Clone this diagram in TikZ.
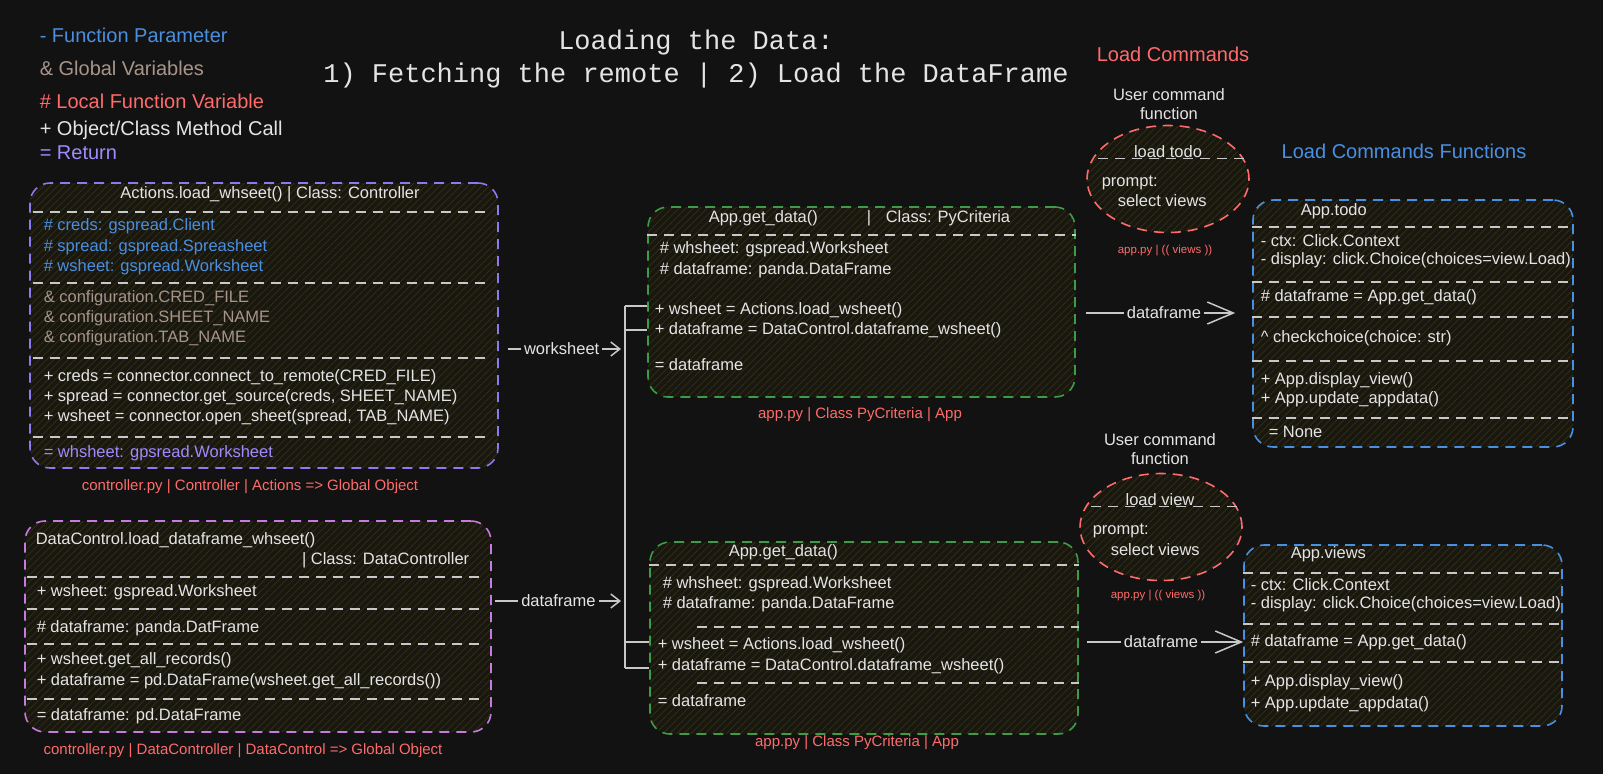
\documentclass[tikz,border=0pt]{standalone}
\usepackage{fontspec}
\setmainfont{Liberation Sans}
\newfontfamily\codefont{Liberation Mono}
\usetikzlibrary{arrows.meta,shapes.geometric,patterns.meta}
\definecolor{bgc}{HTML}{121212}
\definecolor{fg}{HTML}{E4E4E4}
\definecolor{sepc}{HTML}{C8C8C8}
\definecolor{boxfill}{HTML}{181710}
\definecolor{hatch}{HTML}{363017}
\definecolor{parblue}{HTML}{4A8FDF}
\definecolor{globbrown}{HTML}{A8958A}
\definecolor{locred}{HTML}{FF6B6B}
\definecolor{retpurple}{HTML}{A08AFF}
\definecolor{actviolet}{HTML}{9078F0}
\definecolor{dcpink}{HTML}{C87BDC}
\definecolor{appgreen}{HTML}{3E9B47}
\definecolor{fnblue}{HTML}{4A90E2}

\begin{document}
\begin{tikzpicture}[x=1pt,y=-1pt,line width=1.5pt]
   \fill[bgc] (0,0) rectangle (1603,774);
   \useasboundingbox (0,0) rectangle (1603,774);
   \tikzstyle{cls}=[rectangle, rounded corners=20pt, draw, line width=1.6pt, dash pattern=on 10pt off 7pt, preaction={fill=boxfill}, pattern={Lines[angle=45,distance=5pt,line width=0.7pt]}, pattern color=hatch, inner sep=0pt]
   \tikzstyle{cmd}=[ellipse, draw=locred, line width=1.6pt, dash pattern=on 10pt off 7pt, preaction={fill=boxfill}, pattern={Lines[angle=45,distance=5pt,line width=0.7pt]}, pattern color=hatch, inner sep=0pt]
   \tikzstyle{sep}=[draw=sepc, line width=1.5pt, dash pattern=on 10pt off 7pt]
   \tikzstyle{txt}=[anchor=west, inner sep=0pt, text=fg, font=\fontsize{16.5}{19}\selectfont]
   \tikzstyle{srcnote}=[inner sep=0pt, text=locred, font=\fontsize{15}{17}\selectfont]
   \tikzstyle{wire}=[draw=sepc, line width=1.5pt]
   \tikzstyle{lbl}=[fill=bgc, inner sep=3pt, text=fg, font=\fontsize{16.5}{19}\selectfont]

   % legend and title
   \foreach \y/\c/\t in {35/parblue/{- Function Parameter},68/globbrown/{\& Global Variables},101/locred/{\# Local Function Variable},130/fg/{+ Object/Class Method Call},153/retpurple/{= Return}}
       \node[txt, text=\c, font=\fontsize{20}{22}\selectfont] (leg\y) at (39,\y) {\t};
   \node[text=fg, font=\codefont\fontsize{27}{30}\selectfont] (title1) at (696,43) {Loading the Data:};
   \node[text=fg, font=\codefont\fontsize{27}{30}\selectfont] (title2) at (696,76) {1) Fetching the remote | 2) Load the DataFrame};
   \node[text=locred, font=\fontsize{20}{22}\selectfont] (cmdhead) at (1173,54) {Load Commands};
   \node[text=fnblue, font=\fontsize{20}{22}\selectfont] (fnhead) at (1404,151) {Load Commands Functions};

   % Actions.load_wsheet
   \node[cls, draw=actviolet, minimum width=468pt, minimum height=285pt] (act) at (264,325.5) {};
   \node[txt, anchor=center] (act-t) at (270,194) {Actions.load\_whseet() | Class: Controller};
   \foreach \y in {212,283,358,437}
       \draw[sep, shorten <=3pt, shorten >=8pt] (act.west |- 0,\y) -- (act.east |- 0,\y);
   \foreach \y/\c/\t in {226/parblue/{\# creds: gspread.Client},247/parblue/{\# spread: gspread.Spreasheet},267/parblue/{\# wsheet: gspread.Worksheet},
       298/globbrown/{\& configuration.CRED\_FILE},318/globbrown/{\& configuration.SHEET\_NAME},338/globbrown/{\& configuration.TAB\_NAME},
       377/fg/{+ creds = connector.connect\_to\_remote(CRED\_FILE)},397/fg/{+ spread = connector.get\_source(creds, SHEET\_NAME)},417/fg/{+ wsheet = connector.open\_sheet(spread, TAB\_NAME)},
       453/retpurple/{= whsheet: gpsread.Worksheet}}
       \node[txt, text=\c] (act\y) at (43,\y) {\t};
   \node[srcnote] (act-cap) at (250,487) {controller.py | Controller | Actions => Global Object};

   % DataControl.load_dataframe_wsheet
   \node[cls, draw=dcpink, minimum width=466pt, minimum height=211pt] (dc) at (258,626.5) {};
   \node[txt] (dc-t1) at (35,540) {DataControl.load\_dataframe\_whseet()};
   \node[txt, anchor=east] (dc-t2) at (470,560) {| Class: DataController};
   \foreach \y in {577,609,644,699}
       \draw[sep, shorten <=3pt, shorten >=8pt] (dc.west |- 0,\y) -- (dc.east |- 0,\y);
   \foreach \y/\t in {592/{+ wsheet: gspread.Worksheet},628/{\# dataframe: panda.DatFrame},660/{+ wsheet.get\_all\_records()},681/{+ dataframe = pd.DataFrame(wsheet.get\_all\_records())},716/{= dataframe: pd.DataFrame}}
       \node[txt] (dc\y) at (36,\y) {\t};
   \node[srcnote] (dc-cap) at (243,751) {controller.py | DataController | DataControl => Global Object};

   % App.get_data (top)
   \node[cls, draw=appgreen, minimum width=427pt, minimum height=190pt] (gda) at (861.5,302) {};
   \node[txt] (gda-t1) at (708,218) {App.get\_data()};
   \node[txt, anchor=center] (gda-t2) at (869,218) {|};
   \node[txt] (gda-t3) at (885,218) {Class: PyCriteria};
   \draw[sep] (gda.west |- 0,235) -- (gda.east |- 0,235);
   \foreach \y/\x/\t in {249/659/{\# whsheet: gspread.Worksheet},270/659/{\# dataframe: panda.DataFrame},310/654/{+ wsheet = Actions.load\_wsheet()},330/654/{+ dataframe = DataControl.dataframe\_wsheet()},365/654/{= dataframe}}
       \node[txt] (gda\y) at (\x,\y) {\t};
   \node[srcnote] (gda-cap) at (860,415) {app.py | Class PyCriteria | App};

   % App.get_data (bottom)
   \node[cls, draw=appgreen, minimum width=428pt, minimum height=192pt] (gdb) at (864,638) {};
   \node[txt] (gdb-t) at (728,552) {App.get\_data()};
   \draw[sep] (gdb.west |- 0,565) -- (gdb.east |- 0,565);
   \draw[sep] (697,627) -- (gdb.east |- 0,627);
   \draw[sep] (697,683) -- (gdb.east |- 0,683);
   \foreach \y/\x/\t in {584/662/{\# whsheet: gspread.Worksheet},604/662/{\# dataframe: panda.DataFrame},645/657/{+ wsheet = Actions.load\_wsheet()},666/657/{+ dataframe = DataControl.dataframe\_wsheet()},701/657/{= dataframe}}
       \node[txt] (gdb\y) at (\x,\y) {\t};
   \node[srcnote] (gdb-cap) at (857,743) {app.py | Class PyCriteria | App};

   % bus into both App.get_data
   \coordinate (bustop) at (625,306);
   \coordinate (busbot) at (625,668);
   \draw[wire] (bustop) -- (busbot);
   \foreach \y in {306,330}
       \draw[wire] (625,\y) -- (gda.west |- 0,\y);
   \foreach \y in {642,668}
       \draw[wire] (625,\y) -- (gdb.west |- 0,\y);
   \coordinate (wsin) at (625,349);
   \coordinate (dfin) at (625,601);
   \draw[wire, -{Straight Barb[length=9pt,width=14pt]}, shorten <=10pt, shorten >=4pt] (act.east |- wsin) -- node[lbl] {worksheet} (wsin);
   \draw[wire, -{Straight Barb[length=9pt,width=14pt]}, shorten <=3pt, shorten >=4pt] (dc.east |- dfin) -- node[lbl] {dataframe} (dfin);

   % user commands
   \node[text=fg, font=\fontsize{16.5}{19}\selectfont, align=center] (todo-u) at (1169,104) {User command\\function};
   \node[cmd, minimum width=162pt, minimum height=107pt] (ldtodo) at (1168,179) {};
   \node[txt, anchor=center] (ldtodo-t) at (1168,152) {load todo};
   \draw[sep] (ldtodo.15) -- (ldtodo.165);
   \node[txt] (ldtodo-p) at (1101,183) {prompt:};
   \node[txt] (ldtodo-s) at (1117,201) {select views};
   \node[srcnote, font=\fontsize{11.5}{13}\selectfont] (ldtodo-cap) at (1165,251) {app.py | (( views ))};

   \node[text=fg, font=\fontsize{16.5}{19}\selectfont, align=center] (view-u) at (1160,449) {User command\\function};
   \node[cmd, minimum width=162pt, minimum height=107pt] (ldview) at (1161,527) {};
   \node[txt, anchor=center] (ldview-t) at (1160,500) {load view};
   \draw[sep] (ldview.15) -- (ldview.165);
   \node[txt] (ldview-p) at (1092,531) {prompt:};
   \node[txt] (ldview-s) at (1110,550) {select views};
   \node[srcnote, font=\fontsize{11.5}{13}\selectfont] (ldview-cap) at (1158,596) {app.py | (( views ))};

   % App.todo
   \node[cls, draw=fnblue, minimum width=320pt, minimum height=247pt] (todofn) at (1413,323.5) {};
   \node[txt] (todofn-t) at (1300,211) {App.todo};
   \foreach \y in {227,282,317,361,418}
       \draw[sep] (todofn.west |- 0,\y) -- (todofn.east |- 0,\y);
   \foreach \y/\x/\t in {241/1260/{- ctx: Click.Context},260/1260/{- display: click.Choice(choices=view.Load)},297/1260/{\# dataframe = App.get\_data()},338/1260/{\textasciicircum{} checkchoice(choice: str)},380/1260/{+ App.display\_view()},399/1260/{+ App.update\_appdata()},432/1268/{= None}}
       \node[txt] (todofn\y) at (\x,\y) {\t};

   % App.views
   \node[cls, draw=fnblue, minimum width=318pt, minimum height=181pt] (viewsfn) at (1403,635.5) {};
   \node[txt] (viewsfn-t) at (1290,554) {App.views};
   \foreach \y in {573,624,662}
       \draw[sep] (viewsfn.west |- 0,\y) -- (viewsfn.east |- 0,\y);
   \foreach \y/\t in {585/{- ctx: Click.Context},604/{- display: click.Choice(choices=view.Load)},642/{\# dataframe = App.get\_data()},682/{+ App.display\_view()},704/{+ App.update\_appdata()}}
       \node[txt] (viewsfn\y) at (1250,\y) {\t};

   % dataframe into the commands
   \draw[wire, -{Straight Barb[length=26pt,width=22pt]}, shorten <=10pt, shorten >=17pt] (gda.east |- 0,313) -- node[lbl] {dataframe} (todofn.west |- 0,313);
   \draw[wire, -{Straight Barb[length=26pt,width=22pt]}, shorten <=8pt] (gdb.east |- 0,642) -- node[lbl] {dataframe} (viewsfn.west |- 0,642);
\end{tikzpicture}
\end{document}
